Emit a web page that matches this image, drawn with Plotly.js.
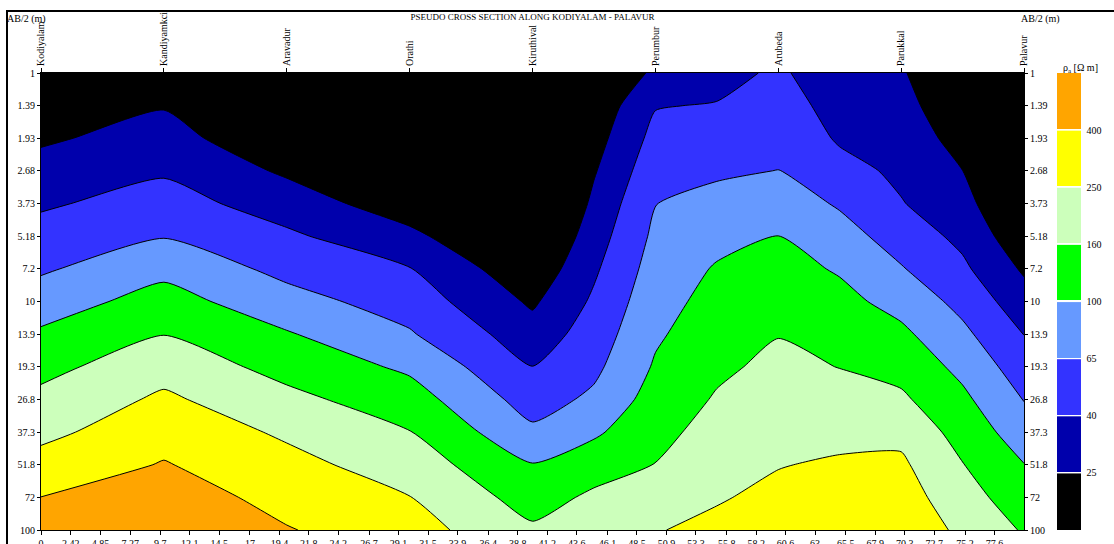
<!DOCTYPE html>
<html><head><meta charset="utf-8">
<script src="https://cdn.plot.ly/plotly-3.0.1.min.js"></script>
<style>
html,body{margin:0;padding:0;background:#fff;overflow:hidden}
#chart{width:1114px;height:544px}
#frame{position:absolute;left:6px;top:10px;width:1300px;height:800px;border:2px solid #000;pointer-events:none}
</style></head><body>
<div id="chart"></div><div id="frame"></div>
<script>
// distance along the profile of each sounding column
const distance = [0, 10, 20, 30, 40, 45, 50, 55, 60, 65, 70, 75, 80];
// AB/2 electrode half-spacing (m)
const ab2 = [1, 1.39, 1.93, 2.68, 3.73, 5.18, 7.2, 10, 13.9, 19.3, 26.8, 37.3, 51.8, 72, 100];
const ab2Labels = ['1','1.39','1.93','2.68','3.73','5.18','7.2','10','13.9','19.3','26.8','37.3','51.8','72','100'];
// apparent resistivity (ohm m), one sounding per distance, top (AB/2=1) to bottom (AB/2=100)
const rhoApparent = [
  [14.8, 18.7, 23.5, 29.8, 37.5, 47.2, 59.4, 79.8, 107, 139, 177, 225, 295, 400, 539],
  [19.7, 24.4, 30.3, 37.7, 48.0, 61.7, 88.2, 120, 157, 210, 272, 333, 410, 502, 590],
  [9.16, 12.5, 17.1, 23.4, 32.1, 43.1, 55.6, 74.6, 104, 136, 179, 235, 287, 343, 409],
  [4.29, 6.25, 9.12, 13.3, 19.4, 28.2, 40.6, 51.4, 65.9, 92.0, 123, 161, 203, 254, 304],
  [3.6, 4.7, 6.14, 8.02, 10.5, 13.7, 17.9, 23.4, 30.6, 40.0, 51.7, 69.0, 102, 131, 170],
  [15.7, 18.1, 20.9, 24.1, 27.8, 32.1, 37.1, 42.8, 49.4, 57.0, 68.9, 93.0, 130, 172, 208],
  [27.4, 38.8, 46.0, 53.7, 62.7, 69.5, 76.8, 84.8, 93.8, 105, 121, 139, 160, 198, 246],
  [32.3, 41.1, 49.3, 59.3, 71.9, 87.6, 104, 116, 130, 146, 165, 187, 213, 243, 276],
  [44.0, 51.6, 57.1, 63.5, 80.7, 101, 117, 135, 156, 176, 197, 220, 247, 276, 309],
  [27.2, 32.0, 37.6, 46.7, 60.0, 75.9, 95.7, 114, 134, 157, 188, 225, 264, 301, 344],
  [26.5, 29.4, 32.7, 36.3, 40.8, 51.5, 65.2, 85.6, 110, 136, 171, 224, 271, 309, 352],
  [15.1, 17.9, 21.2, 25.2, 30.0, 35.6, 43.4, 55.1, 69.9, 88.7, 110, 133, 161, 191, 227],
  [4.99, 6.46, 8.37, 10.8, 14.0, 18.2, 23.6, 30.5, 39.5, 49.5, 62.0, 79.1, 101, 124, 152]
];
const stationPos = [0, 10, 20, 30, 40, 50, 60, 70, 80];
const stationNames = ['Kodiyalam','Kandiyamkci','Aravadur','Orathi','Kiruthival','Perumbur','Arubeda','Parukkal','Palavur'];
const distTickText = ['0','2.42','4.85','7.27','9.7','12.1','14.5','17','19.4','21.8','24.2','26.7','29.1','31.5','33.9','36.4','38.8','41.2','43.6','46.1','48.5','50.9','53.3','55.8','58.2','60.6','63','65.5','67.9','70.3','72.7','75.2','77.6'];
const rhoLevels = [25, 40, 65, 100, 160, 250, 400];
const bandColors = ['#000000','#0000AC','#3333FF','#6699FF','#00FF00','#CCFFBB','#FFFF00','#FFA500'];

const logZ = rhoApparent.map(c => c.map(v => Math.log10(v)));
const nb = bandColors.length;
// contour colorscale: one stop per band centre
const contourScale = bandColors.map((c, i) => [i / (nb - 1), c]);
// colorbar scale: equal bands separated by thin white gaps
const g = 0.0024;
const barScale = [];
bandColors.forEach((c, i) => {
  const a = i / nb, b = (i + 1) / nb;
  if (i > 0) { barScale.push([a, '#FFFFFF']); barScale.push([a + g, '#FFFFFF']); barScale.push([a + g, c]); }
  else barScale.push([0, c]);
  if (i < nb - 1) barScale.push([b - g, c]); else barScale.push([1, c]);
});
const levelTicks = rhoLevels.map((v, i) => 1.4 + 0.2 * i);
const serif = 'Liberation Serif, Times New Roman, serif';

const data = [
  {
    type: 'heatmap', x: distance, y: ab2, z: logZ, transpose: true,
    xaxis: 'x', yaxis: 'y', zmin: 1.2, zmax: 2.8, colorscale: barScale,
    hoverinfo: 'skip', showscale: true,
    colorbar: {
      x: (1062 - 41) / 988, xanchor: 'left', y: 0.5, yanchor: 'middle',
      len: 1, lenmode: 'fraction', thickness: 24, thicknessmode: 'pixels',
      xpad: 0, ypad: 0, outlinewidth: 0, ticks: 'outside', ticklen: 4, tickcolor: 'rgba(0,0,0,0)',
      tickmode: 'array', tickvals: levelTicks, ticktext: rhoLevels.map(String),
      tickfont: {family: serif, size: 10, color: '#000'}
    }
  },
  {
    type: 'contour', x: distance, y: ab2, z: logZ, transpose: true,
    xaxis: 'x2', yaxis: 'y2',
    autocontour: false,
    contours: {start: 1.4, end: 2.6, size: 0.2, coloring: 'fill', showlines: true},
    colorscale: contourScale, showscale: false,
    line: {color: '#000', width: 1, smoothing: 0.6},
    hoverinfo: 'skip'
  }
];

const axisCommon = {showgrid: false, zeroline: false, showline: true, linecolor: '#000', linewidth: 1,
  ticks: 'outside', tickcolor: '#000', tickwidth: 1, tickfont: {family: serif, size: 10, color: '#000'}};

const layout = {
  width: 1114, height: 544,
  margin: {l: 41, r: 85, t: 73, b: 14, pad: 0},
  paper_bgcolor: '#fff', plot_bgcolor: '#000',
  font: {family: serif, size: 10, color: '#000'},
  showlegend: false,
  title: {text: 'PSEUDO CROSS SECTION ALONG KODIYALAM - PALAVUR', font: {family: serif, size: 9, color: '#000'},
    x: 0.5, xref: 'paper', xanchor: 'center', y: 1 - 17 / 544, yref: 'container', yanchor: 'middle'},
  xaxis: Object.assign({}, axisCommon, {range: [0, 80], tickmode: 'array',
    tickvals: distTickText.map(Number), ticktext: distTickText, ticklen: 4}),
  xaxis2: Object.assign({}, axisCommon, {range: [0, 80], overlaying: 'x', side: 'top', anchor: 'y2',
    tickmode: 'array', tickvals: stationPos, ticktext: stationNames, tickangle: -90, ticklen: 4}),
  yaxis: Object.assign({}, axisCommon, {type: 'log', range: [2, 0], tickmode: 'array',
    tickvals: ab2, ticktext: ab2Labels, ticklen: 3}),
  yaxis2: Object.assign({}, axisCommon, {type: 'log', range: [2, 0], overlaying: 'y', side: 'right', anchor: 'x2',
    tickmode: 'array', tickvals: ab2, ticktext: ab2Labels, ticklen: 3}),
  annotations: [
    {text: 'AB/2 (m)', xref: 'paper', yref: 'paper', x: 0, y: 1, xshift: -15, yshift: 54,
      xanchor: 'center', yanchor: 'middle', showarrow: false, font: {family: serif, size: 10}},
    {text: 'AB/2 (m)', xref: 'paper', yref: 'paper', x: 1, y: 1, xshift: 16, yshift: 54,
      xanchor: 'center', yanchor: 'middle', showarrow: false, font: {family: serif, size: 10}},
    {text: 'ρ<sub>a</sub> [Ω m]', xref: 'paper', yref: 'paper', x: (1086 - 41) / 988, y: 1, yshift: 5,
      xanchor: 'center', yanchor: 'middle', showarrow: false, font: {family: serif, size: 10}}
  ]
};

Plotly.newPlot('chart', data, layout, {displayModeBar: false, responsive: false});
</script>
</body></html>
